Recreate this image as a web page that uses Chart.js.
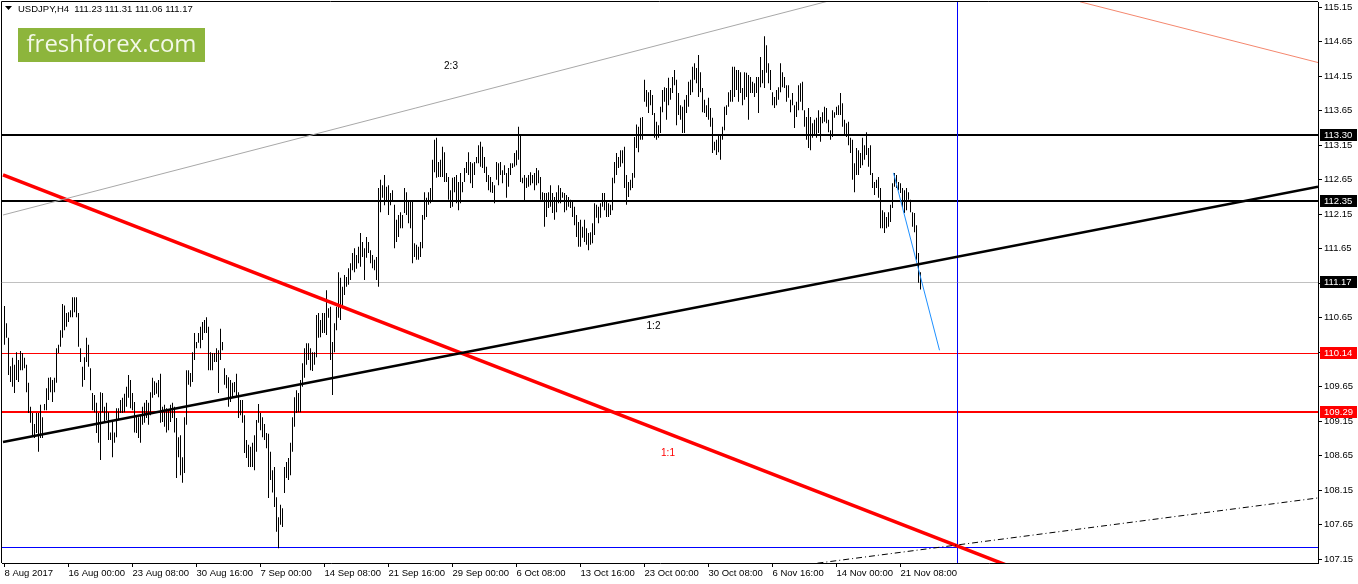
<!DOCTYPE html>
<html><head><meta charset="utf-8">
<script src="https://cdn.jsdelivr.net/npm/chart.js@4"></script>
<style>html,body{margin:0;padding:0;background:#fff;overflow:hidden}canvas{display:block}</style>
</head><body><canvas id="c" width="1358" height="584"></canvas>
<script>
// ---- data (USDJPY H4 bars, index 0 = 8 Aug 2017) ----
const highs=[
110.82,110.57,110.36,109.95,110.07,109.97,110.15,110.04,110.17,110.14,
110.07,109.97,109.71,109.36,109.27,109.11,109.27,109.27,109.39,109.21,
109.40,109.63,109.78,109.79,109.75,109.78,110.21,110.26,110.47,110.85,
110.83,110.72,110.73,110.76,110.95,110.95,110.95,110.72,110.21,109.94,
110.08,110.36,110.26,109.92,109.56,109.53,109.42,109.27,109.57,109.56,
109.36,109.42,109.28,108.99,109.17,108.99,109.34,109.34,109.46,109.49,
109.55,109.65,109.82,109.75,
109.56,109.43,109.24,109.21,109.24,109.36,
109.42,109.46,109.42,109.57,109.78,109.73,109.71,109.75,109.84,109.36,
109.39,109.34,109.33,109.39,109.42,109.36,109.20,108.92,108.95,108.63,
109.21,109.89,109.89,109.85,110.15,110.43,110.30,110.43,110.52,110.59,
110.62,110.66,110.52,110.15,110.14,110.14,110.21,110.18,110.49,110.30,
109.92,109.82,109.79,109.75,109.71,109.72,109.84,109.57,109.46,109.46,
109.24,108.88,108.81,108.78,108.84,108.95,109.17,109.40,109.27,109.21,
109.11,108.98,108.97,108.71,
108.44,108.49,108.05,107.76,107.94,107.89,
108.49,108.56,108.62,108.84,109.21,109.50,109.60,109.56,109.75,109.99,
110.21,110.28,110.28,110.21,110.15,110.15,110.69,110.72,110.62,110.72,
110.72,111.05,110.79,110.81,110.30,110.57,110.81,111.31,111.23,111.10,
111.27,111.24,111.37,111.44,111.59,111.66,111.56,111.68,111.88,111.75,
111.66,111.82,111.75,111.63,111.56,111.49,111.53,112.53,112.65,112.57,
112.72,112.55,112.57,112.46,112.50,112.29,112.07,112.14,112.18,
112.14,112.53,112.47,112.33,112.33,112.33,111.73,111.71,111.68,111.75,112.14,
112.47,112.39,112.47,112.53,112.94,113.23,113.26,112.91,112.94,113.13,
113.05,112.75,112.69,112.50,112.68,112.69,112.72,112.62,112.75,112.62,
112.82,112.91,113.05,112.91,112.89,112.91,112.98,113.15,113.20,113.13,
112.98,112.84,112.72,112.69,112.62,112.57,112.91,112.89,112.91,112.79,
112.86,112.75,112.82,112.89,112.89,113.04,113.08,113.42,113.30,112.68,
112.72,112.68,112.72,112.76,
112.72,112.75,112.82,112.79,112.69,112.47,
112.46,112.46,112.47,112.57,112.46,112.40,112.47,112.57,112.53,112.47,
112.46,112.43,112.40,112.36,112.33,112.26,112.14,112.04,112.07,111.97,
112.07,111.95,111.88,111.89,112.02,112.31,112.29,112.26,112.31,112.46,
112.46,112.33,112.31,112.29,112.68,112.91,113.04,112.98,113.08,113.08,
113.13,112.72,112.62,112.65,112.75,113.27,113.45,113.42,113.55,113.56,
114.10,113.95,113.92,113.95,
113.88,113.62,113.49,113.44,113.71,113.95,
113.99,113.98,114.13,113.98,114.14,114.24,114.10,113.91,113.73,113.71,
113.81,113.88,114.07,114.10,114.29,114.34,114.27,114.46,114.21,113.98,
113.81,113.73,113.84,113.69,113.55,113.20,113.23,113.30,113.30,113.42,
113.71,113.73,113.92,113.95,114.29,114.29,114.24,114.24,114.21,113.98,
114.21,114.20,114.17,114.14,114.07,114.05,114.14,114.14,114.43,114.24,
114.73,114.60,114.34,114.24,113.92,113.85,113.95,113.99,114.34,114.21,
114.14,114.02,114.02,113.81,
113.91,113.73,113.78,114.02,114.05,114.07,
113.66,113.56,113.69,113.56,113.47,113.52,113.55,113.66,113.56,113.63,
113.71,113.69,113.52,113.37,113.66,113.63,113.71,113.73,113.91,113.76,
113.52,113.47,113.49,113.26,113.23,112.89,113.11,113.08,113.04,113.26,
113.15,113.34,113.11,113.15,112.75,112.62,112.65,112.69,112.53,112.21,
112.18,112.11,112.18,112.29,112.60,112.75,112.72,112.62,112.60,112.53,
112.50,112.53,112.47,112.36,112.18,112.17,111.99,111.59,111.31];
const lows=[
110.26,110.36,109.82,109.72,109.65,109.56,109.75,109.72,109.89,109.89,
109.92,109.57,109.27,109.13,108.95,108.91,108.98,108.71,108.91,108.91,
109.31,109.31,109.46,109.57,109.43,109.57,109.71,110.14,110.23,110.36,
110.47,110.52,110.59,110.66,110.66,110.73,110.66,110.23,110.01,109.65,
109.75,110.01,109.94,109.60,109.31,109.28,108.98,108.84,108.59,109.28,
109.13,109.17,108.88,108.88,108.63,108.84,108.92,109.17,109.27,109.27,
109.28,109.36,109.49,109.34,
109.31,108.99,108.98,108.91,108.84,109.10,
109.13,109.20,109.10,109.24,109.49,109.53,109.55,109.50,109.13,109.14,
109.07,108.99,109.02,109.14,109.20,108.99,108.33,108.63,108.37,108.26,
108.40,109.10,109.68,109.65,109.72,110.04,110.21,110.29,110.21,110.33,
110.43,110.43,109.89,109.89,109.89,110.01,110.01,109.56,110.04,110.18,
109.68,109.63,109.36,109.43,109.50,109.57,109.50,109.20,109.24,109.13,
108.69,108.62,108.49,108.49,108.49,108.44,108.71,109.13,109.02,108.92,
108.88,108.76,108.04,108.30,
108.12,107.91,107.55,107.31,107.65,107.62,
108.11,108.33,108.30,108.37,108.71,109.07,109.27,109.28,109.28,109.65,
109.78,109.97,110.04,109.89,109.88,109.97,110.08,110.36,110.37,110.43,
110.43,110.40,110.65,110.04,109.53,110.15,110.47,110.65,110.62,110.79,
110.98,111.10,111.13,111.20,111.34,111.31,111.36,111.44,111.39,111.53,
111.20,111.52,111.59,111.44,111.37,111.34,111.20,111.10,112.18,112.39,
112.28,112.33,112.14,112.28,112.33,111.66,111.75,111.82,111.95,
111.95,112.17,112.14,112.02,111.95,111.44,111.53,111.49,111.49,111.53,111.66,
112.07,112.11,112.29,112.31,112.33,112.76,112.68,112.69,112.69,112.69,
112.62,112.62,112.36,112.24,112.26,112.47,112.31,112.21,112.31,112.47,
112.62,112.75,112.72,112.60,112.53,112.72,112.89,112.89,112.84,112.82,
112.75,112.62,112.50,112.47,112.46,112.31,112.65,112.57,112.72,112.60,
112.72,112.39,112.55,112.72,112.82,112.84,112.86,112.94,112.62,112.60,
112.33,112.53,112.55,112.57,
112.60,112.50,112.57,112.60,112.36,112.33,
111.97,112.11,112.24,112.26,112.17,112.07,112.18,112.31,112.31,112.39,
112.18,112.21,112.26,112.24,112.11,111.99,111.82,111.68,111.68,111.81,
111.75,111.71,111.63,111.71,111.73,111.85,112.10,112.02,112.10,112.26,
112.21,112.11,112.11,112.14,112.21,112.60,112.72,112.82,112.84,112.89,
112.53,112.29,112.40,112.50,112.53,112.68,113.11,113.05,113.23,113.23,
113.78,113.71,113.62,113.73,
113.59,113.26,113.23,113.26,113.33,113.63,
113.78,113.52,113.73,113.81,113.91,114.02,113.44,113.59,113.52,113.33,
113.33,113.62,113.71,113.88,113.92,114.10,114.05,113.85,113.92,113.63,
113.62,113.56,113.52,113.42,113.04,113.08,113.01,113.05,112.94,113.23,
113.37,113.59,113.71,113.78,113.78,113.85,113.95,113.78,113.91,113.73,
113.81,113.85,113.52,113.91,113.91,113.85,113.91,113.62,113.99,114.05,
113.98,114.20,114.05,113.95,113.73,113.69,113.73,113.81,113.92,113.99,
113.98,113.78,113.84,113.63,
113.73,113.40,113.56,113.66,113.78,113.66,
113.42,113.23,113.11,113.08,113.26,113.30,113.26,113.33,113.20,113.47,
113.49,113.47,113.34,113.23,113.27,113.55,113.59,113.59,113.59,113.42,
113.30,113.27,113.15,113.04,112.65,112.47,112.72,112.72,112.82,112.86,
112.94,113.01,112.84,112.72,112.53,112.43,112.53,112.39,111.95,111.95,
111.88,111.95,111.97,112.04,112.24,112.55,112.53,112.50,112.46,112.24,
112.17,112.21,112.36,112.18,111.97,111.89,111.49,111.16,111.06];

const tickIdx=[0,32,64,96,128,160,192,224,256,288,320,352,384,416,448];
const tickLabels=['8 Aug 2017','16 Aug 00:00','23 Aug 08:00','30 Aug 16:00','7 Sep 00:00','14 Sep 08:00','21 Sep 16:00','29 Sep 00:00','6 Oct 08:00','13 Oct 16:00','23 Oct 00:00','30 Oct 08:00','6 Nov 16:00','14 Nov 00:00','21 Nov 08:00'];
const priceTicks=[107.15,107.65,108.15,108.65,109.15,109.65,110.15,110.65,111.15,111.65,112.15,112.65,113.15,113.65,114.15,114.65,115.15];
const priceRange=[107.097,115.227];
const indexRange=[-1.25,656.75];

// horizontal levels: price, colour, width
const levelPrices=[111.17,110.14,107.33,113.30,112.35,109.29];
const levelColors=['#c0c0c0','#ff0000','#0000ff','#000000','#000000','#ff0000'];
const levelWidths=[1,1,1,2,2,2];
const cursorIdx=476;
const trendGrey=[[-0.75,112.14],[656.75,117.08]];
const trendBlack=[[-0.75,108.85],[656.75,112.55]];
const trendRed=[[-0.75,112.72],[547.75,106.54]];
const trendSalmon=[[537.75,115.23],[656.75,114.35]];
const trendDashDot=[[400,107.07],[656.75,108.04]];
const trendBlueProj=[[444.5,112.75],[467.5,110.18]];
const ratioLabels=[{t:'2:3',x:223.25,y:114.30,c:'#000'},{t:'1:2',x:324.5,y:110.53,c:'#000'},{t:'1:1',x:331.75,y:108.69,c:'#ff0000'}];
const boxLabelsBlack=[113.30,112.35,111.17];
const boxLabelsRed=[110.14,109.29];
const titleText='USDJPY,H4  111.23 111.31 111.06 111.17';

const FONT='"Liberation Sans", Arial, sans-serif';

function seg(points,color,width,dash){
  return {type:'line',data:points.map(p=>({x:p[0],y:p[1]})),borderColor:color,borderWidth:width,
    borderDash:dash||[],pointRadius:0,pointHoverRadius:0,fill:false,tension:0,order:0};
}

const datasets=[
  {type:'bar',data:highs.map((h,i)=>({x:i,y:[lows[i],h]})),backgroundColor:'#000',borderWidth:0,
   barThickness:1,inflateAmount:0,grouped:false,order:10},
  seg(trendGrey,'#a8a8a8',1),
  seg(trendSalmon,'#f4876e',1),
  seg(trendDashDot,'#000',1,[6,3,1,3]),
  seg(trendBlack,'#000',2.5),
  seg(trendRed,'#ff0000',3.5),
  seg(trendBlueProj,'#1e90ff',1)
];

const overlay={
  id:'overlay',
  beforeDraw(chart){
    const c=chart.ctx;c.save();c.fillStyle='#fff';c.fillRect(0,0,chart.width,chart.height);c.restore();
  },
  beforeDatasetsDraw(chart){
    // crisp horizontal levels and the vertical cursor line, positioned via the chart's scales
    const c=chart.ctx,a=chart.chartArea,xs=chart.scales.x,ys=chart.scales.y;
    c.save();
    c.beginPath();c.rect(a.left,a.top,a.right-a.left,a.bottom-a.top);c.clip();
    levelPrices.forEach((v,k)=>{
      const w=levelWidths[k];let py=Math.round(ys.getPixelForValue(v));if(w%2===1)py+=0.5;
      c.strokeStyle=levelColors[k];c.lineWidth=w;
      c.beginPath();c.moveTo(a.left,py);c.lineTo(a.right,py);c.stroke();
    });
    const px=Math.round(xs.getPixelForValue(cursorIdx))+0.5;
    c.strokeStyle='#0000ff';c.lineWidth=1;
    c.beginPath();c.moveTo(px,a.top);c.lineTo(px,a.bottom);c.stroke();
    c.restore();
  },
  afterDraw(chart){
    const c=chart.ctx,a=chart.chartArea,xs=chart.scales.x,ys=chart.scales.y;
    c.save();
    // frame
    c.strokeStyle='#000';c.lineWidth=1;
    c.beginPath();
    c.moveTo(a.left-0.5,a.bottom);c.lineTo(a.left-0.5,a.top-0.5);c.lineTo(a.right,a.top-0.5);
    c.stroke();
    // ratio labels
    c.font='10px '+FONT;c.textAlign='center';c.textBaseline='middle';
    ratioLabels.forEach(l=>{c.fillStyle=l.c;c.fillText(l.t,xs.getPixelForValue(l.x),ys.getPixelForValue(l.y));});
    // price boxes
    c.font='9.5px '+FONT;c.textAlign='left';
    const box=(v,bg)=>{const py=Math.round(ys.getPixelForValue(v));
      c.fillStyle=bg;c.fillRect(a.right+2,py-6,chart.width-a.right-3,12);
      c.fillStyle='#fff';c.fillText(v.toFixed(2),a.right+6,py+0.5);};
    boxLabelsBlack.forEach(v=>box(v,'#000'));
    boxLabelsRed.forEach(v=>box(v,'#ff0000'));
    // title
    c.fillStyle='#000';
    c.beginPath();c.moveTo(5,6);c.lineTo(12,6);c.lineTo(8.5,10);c.closePath();c.fill();
    c.font='9.5px '+FONT;c.textBaseline='middle';c.fillStyle='#000';
    c.fillText(titleText,18,9);
    // logo
    c.fillStyle='#8db53c';c.fillRect(18,28,187,34);
    let fs=27;c.font=fs+'px "Open Sans", '+FONT;
    const w=c.measureText('freshforex.com').width;fs=fs*170/w;
    c.font=fs+'px "Open Sans", '+FONT;
    c.fillStyle='#f3f8e8';c.textAlign='center';c.textBaseline='middle';
    c.fillText('freshforex.com',111.5,45.5);
    c.restore();
  }
};

new Chart(document.getElementById('c'),{
  type:'bar',
  data:{datasets},
  options:{
    responsive:false,animation:false,devicePixelRatio:1,events:[],
    layout:{padding:{left:2,top:2,right:0,bottom:0}},
    plugins:{legend:{display:false},tooltip:{enabled:false},title:{display:false}},
    scales:{
      x:{type:'linear',position:'bottom',min:indexRange[0],max:indexRange[1],offset:false,
        afterBuildTicks:s=>{s.ticks=tickIdx.map(v=>({value:v}));},
        ticks:{autoSkip:false,maxRotation:0,minRotation:0,align:'start',padding:1,color:'#000',
          font:{family:FONT,size:9.5},callback:v=>{const k=tickIdx.indexOf(v);return k<0?'':tickLabels[k];}},
        grid:{drawOnChartArea:false,drawTicks:true,tickLength:4,color:'#000',offset:false},
        border:{display:true,color:'#000',width:1},
        afterFit:s=>{s.height=21;s.paddingLeft=0;s.paddingRight=0;}
      },
      y:{type:'linear',position:'right',min:priceRange[0],max:priceRange[1],
        afterBuildTicks:s=>{s.ticks=priceTicks.map(v=>({value:v}));},
        ticks:{autoSkip:false,padding:2,color:'#000',font:{family:FONT,size:9.5},callback:v=>Number(v).toFixed(2)},
        grid:{drawOnChartArea:false,drawTicks:true,tickLength:4,color:'#000'},
        border:{display:true,color:'#000',width:1},
        afterFit:s=>{s.width=40;s.paddingTop=0;s.paddingBottom=0;}
      }
    }
  },
  plugins:[overlay]
});
</script></body></html>
